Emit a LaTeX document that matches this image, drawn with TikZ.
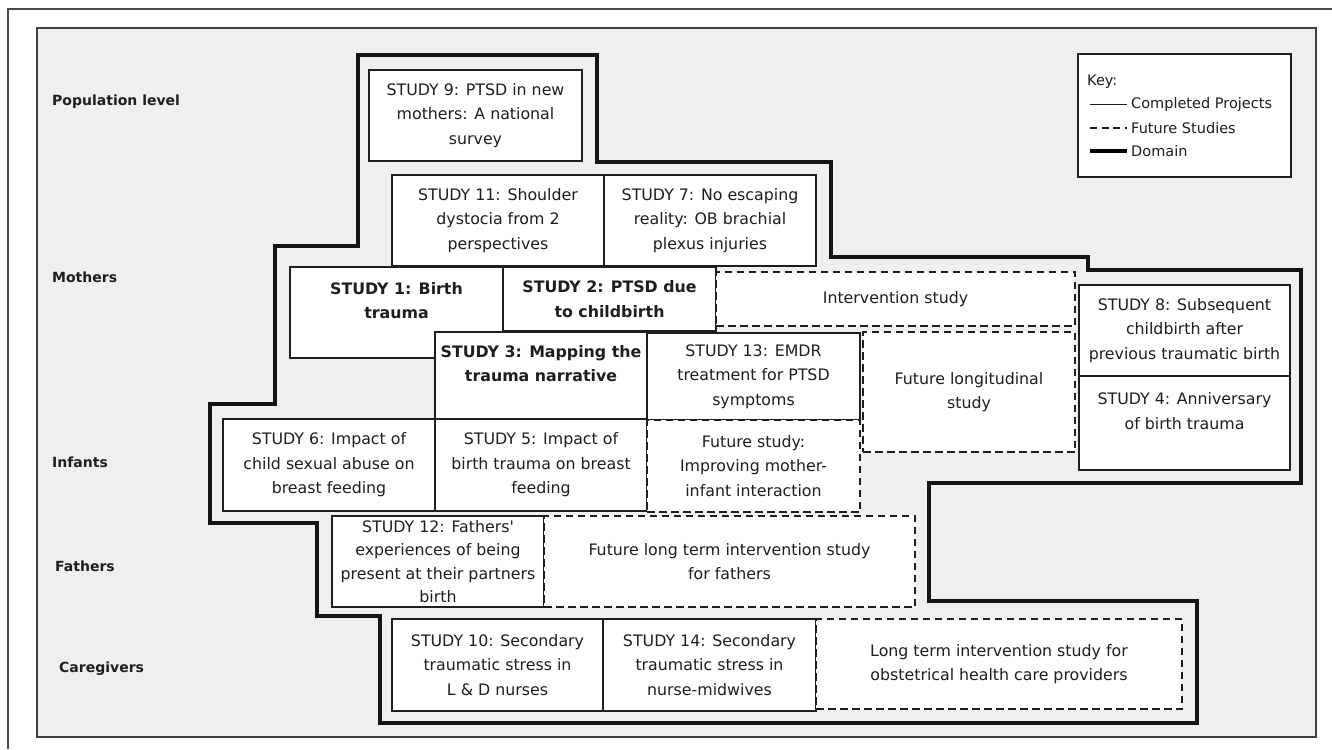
\documentclass[tikz,border=0pt]{standalone}
\usepackage{fontspec}
\newfontfamily\dvs{DejaVu Sans}
\definecolor{panelgrey}{HTML}{EEEFF1}
\definecolor{ink}{HTML}{1E1E1E}
\newcommand\bx[7][sbox]{%
  \node[#1, minimum width={(#5-#3)*1pt}, minimum height={(#6-#4)*1pt}]
    (#2) at ({(#3+#5)/2},{(#4+#6)/2}) {#7};}
\begin{document}
\begin{tikzpicture}[x=1pt,y=-1pt,
  every node/.style={text=ink},
  sbox/.style={draw=ink, line width=1.3pt, fill=white, align=center, inner sep=0pt,
    font=\dvs\fontsize{15.8}{24.5}\selectfont},
  bbox/.style={sbox, font=\dvs\bfseries\fontsize{15.8}{24.5}\selectfont},
  fbox/.style={sbox, line width=1.4pt, dash pattern=on 7.5pt off 4.5pt},
  lvl/.style={font=\dvs\bfseries\fontsize{14}{17}\selectfont, anchor=west, inner sep=0pt},
  keyt/.style={font=\dvs\fontsize{14.5}{17}\selectfont, anchor=west, inner sep=0pt},
  domainline/.style={draw=black!92, line width=3.5pt, line join=miter},
]
\useasboundingbox (0,0) rectangle (1332,749);
\draw[ink!80, line width=1.2pt] (8,749) -- (8,9) -- (1332,9);
\draw[fill=panelgrey, draw=ink!85, line width=1.4pt] (37,28) rectangle (1316,737);

% level labels
\node[lvl] (lpop) at (52,102) {Population level};
\node[lvl] (lmot) at (52,277) {Mothers};
\node[lvl] (linf) at (52,462) {Infants};
\node[lvl] (lfat) at (55,566) {Fathers};
\node[lvl] (lcar) at (59,669) {Caregivers};

% domain outline
\draw[domainline] (358,55) -- (597,55) -- (597,162) -- (831,162) -- (831,257)
  -- (1088,257) -- (1088,270) -- (1301,270) -- (1301,483) -- (929,483)
  -- (929,601) -- (1197,601) -- (1197,723) -- (380,723) -- (380,616)
  -- (317,616) -- (317,523) -- (210,523) -- (210,404) -- (275,404)
  -- (275,246) -- (358,246) -- cycle;

% boxes
\bx{s9}{369}{70}{582}{161}{STUDY 9: PTSD in new\\mothers: A national\\survey}
\bx{s11}{392}{175}{604}{266}{STUDY 11: Shoulder\\dystocia from 2\\perspectives}
\bx{s7}{604}{175}{816}{266}{STUDY 7: No escaping\\reality: OB brachial\\plexus injuries}
\bx[bbox]{s1}{290}{267}{503}{358}{STUDY 1: Birth\\trauma\\\mbox{}}
\bx[bbox]{s2}{503}{267}{716}{331}{STUDY 2: PTSD due\\to childbirth}
\bx[fbox]{int}{716}{272}{1075}{326}{Intervention study}
\bx[bbox]{s3}{435}{332}{647}{419}{STUDY 3: Mapping the\\trauma narrative\\\mbox{}}
\bx{s13}{647}{333}{860}{420}{STUDY 13: EMDR\\treatment for PTSD\\symptoms}
\bx[fbox]{flong}{863}{332}{1075}{452}{Future longitudinal\\study}
\bx{s6}{223}{419}{435}{511}{STUDY 6: Impact of\\child sexual abuse on\\breast feeding}
\bx{s5}{435}{419}{647}{511}{STUDY 5: Impact of\\birth trauma on breast\\feeding}
\bx[fbox]{fstudy}{647}{420}{860}{512}{Future study:\\Improving mother-\\infant interaction}
\bx{s8}{1079}{285}{1290}{376}{STUDY 8: Subsequent\\childbirth after\\previous traumatic birth}
\bx{s4}{1079}{376}{1290}{470}{STUDY 4: Anniversary\\of birth trauma\\\mbox{}}
\bx[sbox, font=\dvs\fontsize{15.8}{23.5}\selectfont]{s12}{332}{516}{544}{607}{STUDY 12: Fathers'\\experiences of being\\present at their partners\\birth}
\bx[fbox]{ffath}{544}{516}{915}{607}{Future long term intervention study\\for fathers}
\bx{s10}{392}{619}{603}{711}{STUDY 10: Secondary\\traumatic stress in\\L \& D nurses}
\bx{s14}{603}{619}{816}{711}{STUDY 14: Secondary\\traumatic stress in\\nurse-midwives}
\bx[fbox]{lterm}{816}{619}{1182}{709}{Long term intervention study for\\obstetrical health care providers}

% key
\node[draw=ink, line width=1.3pt, fill=white, minimum width=213pt, minimum height=123pt, inner sep=0pt] (key) at (1184.5,115.5) {};
\node[keyt] (keyl) at (1087,82) {Key:};
\coordinate (k1a) at (1090,104.5); \coordinate (k1b) at (1127,104.5);
\coordinate (k2a) at (1090,128); \coordinate (k2b) at (1127,128);
\coordinate (k3a) at (1090,151); \coordinate (k3b) at (1127,151);
\draw[ink, line width=1.2pt] (k1a) -- (k1b);
\draw[ink, line width=1.2pt, dash pattern=on 7pt off 4.5pt] (k2a) -- (k2b);
\draw[black, line width=3.2pt] (k3a) -- (k3b);
\node[keyt] (kc) at (1131,104.5) {Completed Projects};
\node[keyt] (kf) at (1131,128) {Future Studies};
\node[keyt] (kd) at (1131,151) {Domain};
\end{tikzpicture}
\end{document}
